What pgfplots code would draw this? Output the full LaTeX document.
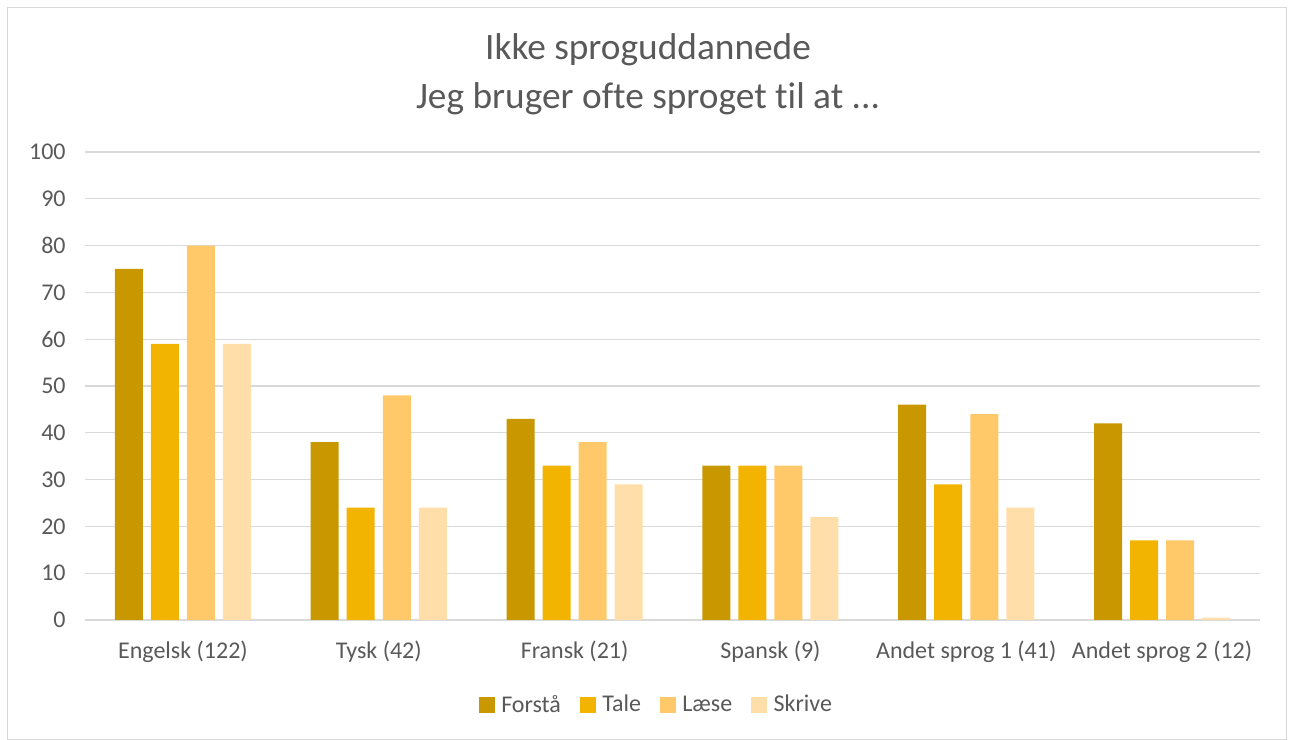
\documentclass[border=0pt]{standalone}
\usepackage{pgfplots}
\pgfplotsset{compat=1.18}
\usepackage{fontspec}
\setmainfont{Carlito}[Ligatures=NoCommon]
\definecolor{cA}{HTML}{C99700}
\definecolor{cB}{HTML}{F2B400}
\definecolor{cC}{HTML}{FFC869}
\definecolor{cD}{HTML}{FFDEAA}
\definecolor{txt}{HTML}{595959}
\definecolor{grd}{HTML}{D9D9D9}
\begin{document}
\begin{tikzpicture}
\path (0,0) rectangle (967.5pt,553.5pt);
\draw[grd, line width=0.75pt] (5.6pt,-1pt) rectangle (964.5pt,547.5pt);
\node[text=txt, font=\fontsize{28}{36.75}\selectfont, align=center] at (486pt,497.5pt) {Ikke sproguddannede\\Jeg bruger ofte sproget til at ...};
\begin{axis}[
  at={(63.75pt,88.5pt)}, anchor=south west,
  scale only axis, width=881.25pt, height=351pt,
  xmin=-0.5, xmax=5.5, ymin=0, ymax=100,
  ytick={0,10,...,100}, xtick={0,...,5},
  xticklabels={Engelsk (122),Tysk (42),Fransk (21),Spansk (9),Andet sprog 1 (41),Andet sprog 2 (12)},
  axis x line=bottom, axis y line=left,
  x axis line style={-, draw=grd, line width=1pt},
  y axis line style={draw=none},
  major tick length=0pt,
  ymajorgrids, major grid style={grd, line width=0.9pt},
  /pgf/number format/assume math mode=true,
  ticklabel style={font=\fontsize{18}{21}\selectfont, text=txt},
  yticklabel style={xshift=-11pt},
  xticklabel style={yshift=-12pt},
  ybar, bar width=0.143,
  legend style={at={(0.4865,-0.1806)}, anchor=center, draw=none, legend columns=4,
    font=\fontsize{18}{21}\selectfont, text=txt,
    /tikz/every odd column/.append style={column sep=3pt},
    /tikz/every even column/.append style={column sep=12pt}},
  legend image code/.code={\fill[#1, draw=none] (0pt,-6pt) rectangle (12pt,6pt);},
]
\addplot[fill=cA, draw=none, bar shift=-0.276] coordinates {(0,75) (1,38) (2,43) (3,33) (4,46) (5,42)};
\addplot[fill=cB, draw=none, bar shift=-0.092] coordinates {(0,59) (1,24) (2,33) (3,33) (4,29) (5,17)};
\addplot[fill=cC, draw=none, bar shift=0.092] coordinates {(0,80) (1,48) (2,38) (3,33) (4,44) (5,17)};
\addplot[fill=cD, draw=none, bar shift=0.276] coordinates {(0,59) (1,24) (2,29) (3,22) (4,24) (5,0.5)};
\legend{Forstå,Tale,Læse,Skrive}
\end{axis}
\end{tikzpicture}
\end{document}
